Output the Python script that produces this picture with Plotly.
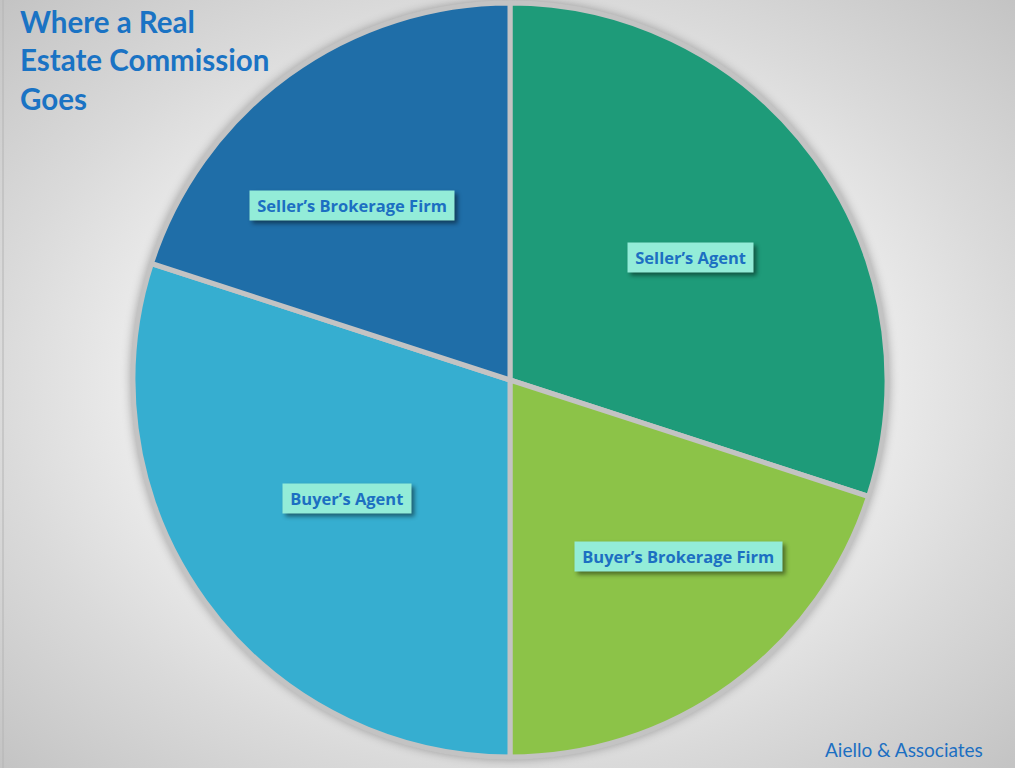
import math
import base64
import plotly.graph_objects as go

# ---- data ----
labels = ["Seller’s Agent", "Buyer’s Brokerage Firm", "Buyer’s Agent", "Seller’s Brokerage Firm"]
values = [30, 20, 30, 20]
colors = ["#1e9b79", "#8cc348", "#36aed0", "#1f6ea8"]

# label placement (fraction of radius, angle shift in degrees from slice middle)
label_radius = [0.58, 0.647, 0.534, 0.625]
label_shift = [1.8, -7.8, 0.1, -6.1]

title_text = "Where a Real<br>Estate Commission<br>Goes"
footer_text = "Aiello & Associates"

W, H = 1024, 768
text_blue = "#1c6fc2"
SLIDE_R = 1015  # right edge of grey slide area

# background radial gradient via inline svg
svg = f"""<svg xmlns='http://www.w3.org/2000/svg' width='{W}' height='{H}' viewBox='0 0 {W} {H}' preserveAspectRatio='none'>
<defs><radialGradient id='g' cx='0.5' cy='0.5' r='0.72'>
<stop offset='0' stop-color='#ffffff'/><stop offset='0.5' stop-color='#ececec'/>
<stop offset='0.7' stop-color='#dadada'/><stop offset='1' stop-color='#c2c2c2'/>
</radialGradient></defs><rect width='{W}' height='{H}' fill='url(#g)'/></svg>"""
bg_src = "data:image/svg+xml;base64," + base64.b64encode(svg.encode()).decode()

# pie geometry (pixels)
cx, cy, R = 510, 380, 377
dom_x = [(cx - R) / W, (cx + R) / W]
dom_y = [1 - (cy + R) / H, 1 - (cy - R) / H]

fig = go.Figure(go.Pie(
    labels=labels, values=values, sort=False, direction="clockwise", rotation=0,
    marker=dict(colors=colors, line=dict(color="#c3c3c3", width=5)),
    textinfo="none", hoverinfo="label+percent", showlegend=False,
    domain=dict(x=dom_x, y=dom_y),
))

annotations = []
total = sum(values)
cum = 0
for lab, v, rf, sh in zip(labels, values, label_radius, label_shift):
    mid = (cum + v / 2) / total * 2 * math.pi + math.radians(sh)
    cum += v
    px = cx + R * rf * math.sin(mid)
    py = cy - R * rf * math.cos(mid)
    annotations.append(dict(
        x=px / W, y=1 - py / H, xref="paper", yref="paper", showarrow=False,
        xanchor="center", yanchor="middle",
        text=f"<b>\u00a0{lab}\u00a0</b>",
        font=dict(family="Open Sans", size=16.5, color=text_blue),
        bgcolor="#93ecd8", borderpad=3))

annotations.append(dict(
    x=18 / W, y=1 - 2 / H, xref="paper", yref="paper", xanchor="left", yanchor="top",
    showarrow=False, align="left", text=f"<b>{title_text}</b>",
    font=dict(family="Lato", size=29.5, color="#1a73c4")))
annotations.append(dict(
    x=985 / W, y=1 - 749 / H, xref="paper", yref="paper", xanchor="right", yanchor="middle",
    showarrow=False, text=footer_text,
    font=dict(family="Lato", size=19, color=text_blue)))

fig.update_layout(
    width=W, height=H, margin=dict(l=0, r=0, t=0, b=0),
    paper_bgcolor="#ffffff", plot_bgcolor="rgba(0,0,0,0)",
    annotations=annotations,
    images=[dict(source=bg_src, xref="paper", yref="paper", x=0, y=1,
                 sizex=SLIDE_R / W, sizey=1,
                 xanchor="left", yanchor="top", sizing="stretch", layer="below")],
    shapes=[
        dict(type="line", xref="paper", yref="paper", x0=3 / W, x1=3 / W, y0=0, y1=1,
             line=dict(color="#b4b4b4", width=1), layer="below"),
    ],
)

post_js = """
document.body.style.margin='0';
var gd = document.getElementById('{plot_id}');
gd.querySelectorAll('.annotation rect.bg').forEach(function(r){
  var op = parseFloat(r.style.fillOpacity);
  if (!isNaN(op) && op > 0) { r.style.filter = 'drop-shadow(3px 3px 2px rgba(0,0,0,0.45))'; }
});
gd.querySelectorAll('.pielayer .trace').forEach(function(t){
  t.style.filter = 'drop-shadow(0px 0px 5px rgba(0,0,0,0.3))';
});
"""

fig.write_html("out.html", config={"displayModeBar": False}, post_script=post_js)
